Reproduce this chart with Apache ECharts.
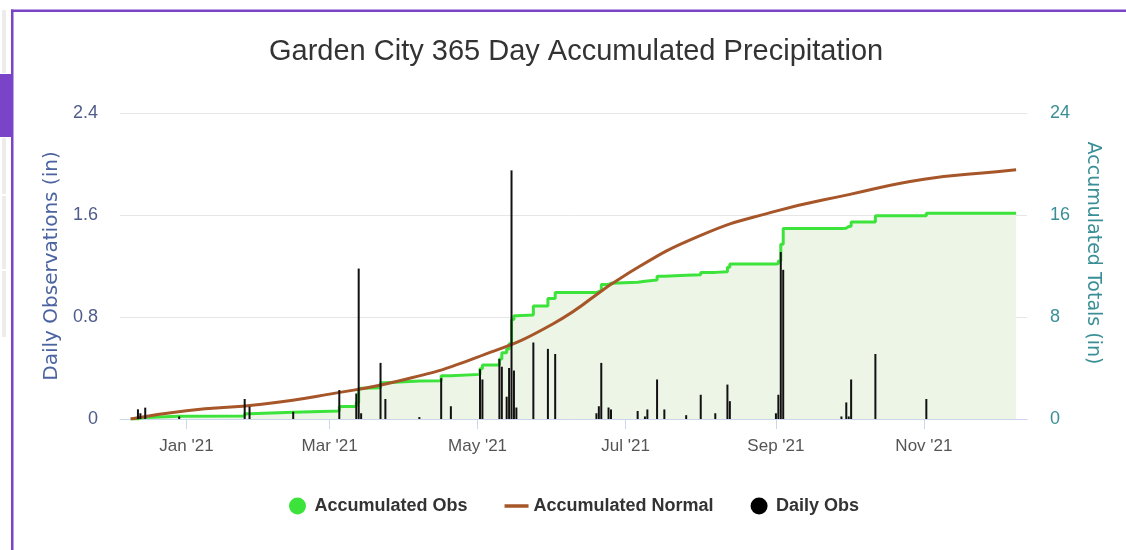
<!DOCTYPE html>
<html><head><meta charset="utf-8">
<script src="https://cdn.jsdelivr.net/npm/echarts@6/dist/echarts.min.js"></script>
<style>html,body{margin:0;padding:0;background:#fff}#c{width:1126px;height:550px}</style>
</head><body><div id="c"></div>
<script>
// ---- data ----
const tickDates = ['2021-01-01','2021-03-01','2021-05-01','2021-07-01','2021-09-01','2021-11-01'];
const tickLabels = ["Jan '21","Mar '21","May '21","Jul '21","Sep '21","Nov '21"];
const leftTicks = ['0','0.8','1.6','2.4'];
const rightTicks = ['0','8','16','24'];

const dailyDates = ['2020-12-12','2020-12-13','2020-12-15','2020-12-29','2021-01-25','2021-01-27','2021-02-14',
  '2021-03-05','2021-03-12','2021-03-13','2021-03-14','2021-03-22','2021-03-24','2021-04-07','2021-04-16','2021-04-20',
  '2021-05-02','2021-05-03','2021-05-10','2021-05-11','2021-05-13','2021-05-14','2021-05-15','2021-05-16','2021-05-17',
  '2021-05-24','2021-05-30','2021-06-02','2021-06-19','2021-06-20','2021-06-21','2021-06-24','2021-06-25',
  '2021-07-06','2021-07-09','2021-07-10','2021-07-14','2021-07-17','2021-07-26','2021-08-01','2021-08-07',
  '2021-08-12','2021-08-13','2021-09-01','2021-09-02','2021-09-03','2021-09-04','2021-09-28','2021-09-30',
  '2021-10-01','2021-10-02','2021-10-12','2021-11-02'];
const dailyValues = [0.076,0.045,0.089,0.02,0.157,0.097,0.057,
  0.227,0.20,1.18,0.045,0.44,0.157,0.015,0.32,0.10,
  0.39,0.31,0.47,0.41,0.175,0.40,1.95,0.38,0.09,
  0.60,0.55,0.51,0.045,0.10,0.44,0.09,0.075,
  0.063,0.02,0.075,0.31,0.075,0.03,0.19,0.045,
  0.27,0.14,0.045,0.19,1.31,1.17,0.02,0.13,
  0.02,0.31,0.51,0.157];

const accObsDates = ['2020-12-09','2020-12-12','2020-12-13','2020-12-15','2020-12-29','2021-01-25','2021-01-27','2021-02-14',
  '2021-03-05','2021-03-12','2021-03-13','2021-03-14','2021-03-22','2021-03-24','2021-04-07','2021-04-16','2021-04-20',
  '2021-05-02','2021-05-03','2021-05-10','2021-05-11','2021-05-13','2021-05-14','2021-05-15','2021-05-16','2021-05-17',
  '2021-05-24','2021-05-30','2021-06-02','2021-06-19','2021-06-20','2021-06-21','2021-06-24','2021-06-25',
  '2021-07-06','2021-07-09','2021-07-10','2021-07-14','2021-07-17','2021-07-26','2021-08-01','2021-08-07',
  '2021-08-12','2021-08-13','2021-09-01','2021-09-02','2021-09-03','2021-09-04','2021-09-28','2021-09-30',
  '2021-10-01','2021-10-02','2021-10-12','2021-11-02','2021-12-09'];
const accObsValues = [0,0.08,0.12,0.21,0.24,0.42,0.52,0.62,
  0.98,1.30,2.42,2.45,2.85,2.98,3.0,3.4,3.5,
  3.95,4.24,4.7,5.2,5.5,5.9,7.8,8.1,8.16,
  8.86,9.46,9.93,9.98,10.08,10.55,10.65,10.72,
  10.8,10.82,10.9,11.2,11.28,11.31,11.5,11.55,
  11.9,12.15,12.2,12.4,13.7,14.95,14.97,15.1,
  15.12,15.45,15.95,16.13,16.13];

const normDates = ['2020-12-09','2021-01-01','2021-02-01','2021-03-01','2021-04-01','2021-05-01','2021-06-01',
  '2021-07-01','2021-08-01','2021-09-01','2021-10-01','2021-11-01','2021-12-01','2021-12-09'];
const normValues = [0,0.65,1.15,1.95,3.1,4.85,7.45,11.3,14.4,16.3,17.6,18.8,19.4,19.55];

// ---- build ----
const DAY = 86400000;
function t(s){const p=s.split('-').map(Number);return Date.UTC(p[0],p[1]-1,p[2]);}
const jan1 = t('2021-01-01');
const xMin = jan1 - 27.4*DAY, xMax = jan1 + 346.5*DAY;
const tickVals = tickDates.map(t);
const zip = (d,v)=>d.map((s,i)=>[t(s),v[i]]);

const chart = echarts.init(document.getElementById('c'), null, {renderer:'canvas'});
const sans = "'Liberation Sans',Arial,sans-serif";
const wide = "'DejaVu Sans',sans-serif";
const purple = '#7a44c8';
chart.setOption({
  animation:false,
  backgroundColor:'#fff',
  title:{text:'Garden City 365 Day Accumulated Precipitation', left:264, top:32,
    textStyle:{fontFamily:sans, fontSize:29, fontWeight:'normal', color:'#333'}},
  legend:{bottom:30, left:284, itemGap:37, itemWidth:24, itemHeight:17,
    textStyle:{fontFamily:sans, fontSize:18, fontWeight:'bold', color:'#333'},
    data:[{name:'Accumulated Obs', icon:'circle', itemStyle:{color:'#3be33b'}},
          {name:'Accumulated Normal', icon:'path://M0,0L24,0L24,3.5L0,3.5Z', itemStyle:{color:'#a65628'}},
          {name:'Daily Obs', icon:'circle', itemStyle:{color:'#000'}}]},
  grid:{left:120, right:99, top:113, bottom:131, containLabel:false},
  xAxis:{type:'value', min:xMin, max:xMax,
    axisLine:{show:true, lineStyle:{color:'#ccd6eb', width:1}},
    axisTick:{show:true, length:10, lineStyle:{color:'#ccd6eb'}, customValues:tickVals},
    axisLabel:{customValues:tickVals, margin:19, color:'#555', fontFamily:sans, fontSize:17,
      formatter:(v)=>{const i=tickVals.indexOf(v);return i>=0?tickLabels[i]:'';}},
    splitLine:{show:false}},
  yAxis:[
    {type:'value', min:0, max:2.4, interval:0.8, position:'left',
     name:'Daily Observations (in)', nameLocation:'middle', nameGap:57,
     nameTextStyle:{fontFamily:wide, fontSize:20, color:'#4b63a0'},
     axisLine:{show:false}, axisTick:{show:false},
     axisLabel:{margin:22, color:'#4f5b8a', fontFamily:sans, fontSize:18, padding:[3,0,0,0],
       formatter:(v)=>leftTicks[Math.round(v/0.8)]},
     splitLine:{show:true, lineStyle:{color:'#e6e6e6', width:1}}},
    {type:'value', min:0, max:24, interval:8, position:'right',
     name:'Accumulated Totals (in)', nameLocation:'middle', nameGap:56, nameRotate:-90,
     nameTextStyle:{fontFamily:wide, fontSize:19, color:'#3a8f96', padding:[0,26,0,0]},
     axisLine:{show:false}, axisTick:{show:false},
     axisLabel:{margin:23, color:'#3a8f96', fontFamily:sans, fontSize:18, padding:[3,0,0,0],
       formatter:(v)=>rightTicks[Math.round(v/8)]},
     splitLine:{show:false}}
  ],
  series:[
    {name:'Accumulated Obs', type:'line', yAxisIndex:1, step:'end', symbol:'none', z:2,
     lineStyle:{color:'#3be33b', width:3}, itemStyle:{color:'#3be33b'},
     areaStyle:{color:'#edf5e6', opacity:1},
     data:zip(accObsDates, accObsValues)},
    {name:'Accumulated Normal', type:'line', yAxisIndex:1, smooth:0.5, symbol:'none', z:3,
     lineStyle:{color:'#a65628', width:3}, itemStyle:{color:'#a65628'},
     data:zip(normDates, normValues)},
    {name:'Daily Obs', type:'bar', yAxisIndex:0, barWidth:2, z:4,
     itemStyle:{color:'#111'},
     data:zip(dailyDates, dailyValues)}
  ],
  graphic:[
    {type:'rect', shape:{x:11, y:9.5, width:1115, height:2.5}, style:{fill:purple}, silent:true},
    {type:'rect', shape:{x:11, y:9.5, width:2.5, height:541}, style:{fill:purple}, silent:true},
    {type:'rect', shape:{x:0, y:74, width:11, height:63}, style:{fill:purple}, silent:true},
    {type:'rect', shape:{x:2, y:10, width:4, height:63}, style:{fill:'#ececec'}, silent:true},
    {type:'rect', shape:{x:2, y:138, width:4, height:56}, style:{fill:'#ececec'}, silent:true},
    {type:'rect', shape:{x:2, y:196, width:4, height:73}, style:{fill:'#ececec'}, silent:true},
    {type:'rect', shape:{x:2, y:271, width:4, height:66}, style:{fill:'#ececec'}, silent:true}
  ]
});
</script></body></html>
